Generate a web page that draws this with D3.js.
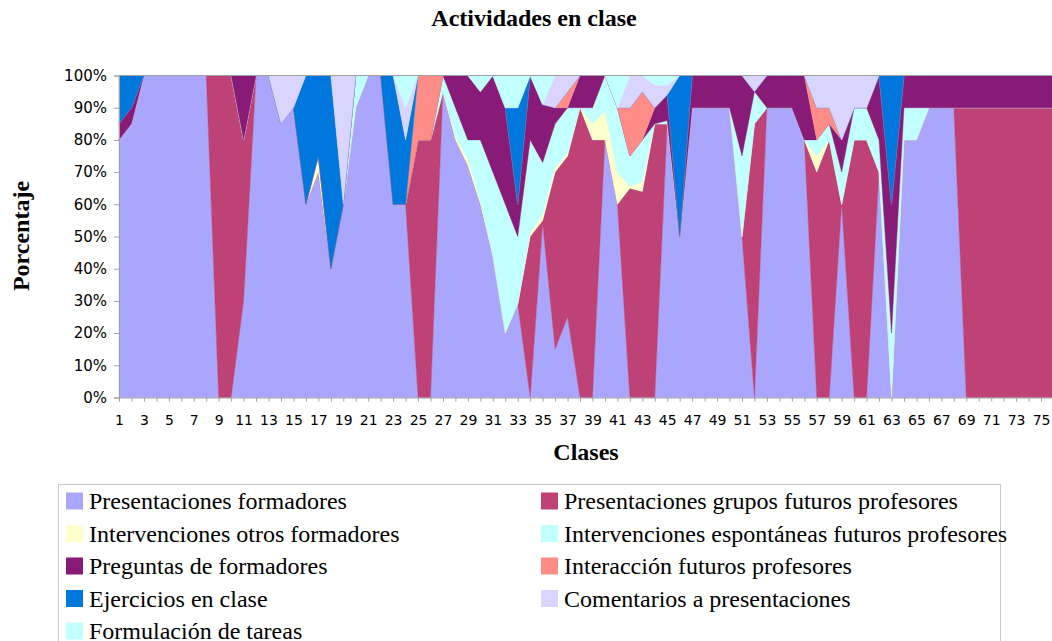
<!DOCTYPE html>
<html>
<head>
<meta charset="utf-8">
<script src="https://cdn.jsdelivr.net/npm/d3@7"></script>
<style>
  html, body { margin: 0; padding: 0; background: #fff; }
  svg { display: block; }
</style>
</head>
<body>
<svg id="chart" width="1052" height="641"></svg>
<script>
// Class numbers (1..76)
const clases = d3.range(1, 77);

// Percentage of each activity per class
const presentacionesFormadores = [
  80,85,100,100,100,100,100,100,0,0,
  30,100,100,85,90,60,70,40,60,90,
  100,100,60,60,0,0,95,80,72,60,
  44,20,29,0,54,15,25,0,0,80,
  60,0,0,0,85,50,90,90,90,90,
  50,0,90,90,90,80,0,0,60,0,
  0,70,0,80,80,90,90,90,0,0,
  0,0,0,0,0,0];
const presentacionesGrupos = [
  0,0,0,0,0,0,0,0,100,100,
  50,0,0,0,0,0,0,0,0,0,
  0,0,0,0,80,80,0,0,0,0,
  0,0,0,50,1,55,50,90,80,0,
  0,65,64,85,0,0,0,0,0,0,
  0,85,0,0,0,0,70,80,0,80,
  80,0,0,0,0,0,0,0,90,90,
  90,90,90,90,90,90];
const intervencionesOtros = [
  0,0,0,0,0,0,0,0,0,0,
  0,0,0,0,0,0,5,0,0,0,
  0,0,0,0,0,0,0,1,2,1,
  0,0,0,1,2,1.5,1,0,5,9,
  10,0.5,3,0,0,0,0,0,0,0,
  0,0,0,0,0,0,5,0,0,0,
  0,0,0,0,0,0,0,0,0,0,
  0,0,0,0,0,0];
const intervencionesEspontaneas = [
  0,0,0,0,0,0,0,0,0,0,
  0,0,0,0,0,0,0,0,0,10,
  0,0,0,0,0,0,5,9,6,19,
  26,40,21,29,16,13.5,14,0,5,11,
  20,9.5,13,0,1,0,0,0,0,0,
  25,10,0,0,0,0,5,5,10,10,
  10,10,20,10,10,0,0,0,0,0,
  0,0,0,0,0,0];
const preguntasFormadores = [
  5,5,0,0,0,0,0,0,0,0,
  20,0,0,0,0,0,0,0,0,0,
  0,0,0,0,0,0,0,10,20,15,
  30,30,10,20,18,5,0,10,10,0,
  0,0,0,5,8,0,10,10,10,10,
  25,0,10,10,10,20,0,0,10,0,
  0,20,40,10,10,10,10,10,10,10,
  10,10,10,10,10,10];
const interaccionFuturos = [
  0,0,0,0,0,0,0,0,0,0,
  0,0,0,0,0,0,0,0,0,0,
  0,0,0,0,20,20,0,0,0,0,
  0,0,0,0,0,0,5,0,0,0,
  0,15,15,0,0,0,0,0,0,0,
  0,0,0,0,0,0,10,5,0,0,
  0,0,0,0,0,0,0,0,0,0,
  0,0,0,0,0,0];
const ejerciciosClase = [
  15,10,0,0,0,0,0,0,0,0,
  0,0,0,0,0,40,25,60,0,0,
  0,0,40,20,0,0,0,0,0,0,
  0,0,30,0,0,0,0,0,0,0,
  0,0,0,0,0,50,0,0,0,0,
  0,0,0,0,0,0,0,0,0,0,
  0,0,40,0,0,0,0,0,0,0,
  0,0,0,0,0,0];
const comentariosPresentaciones = [
  0,0,0,0,0,0,0,0,0,0,
  0,0,0,15,10,0,0,0,40,0,
  0,0,0,10,0,0,0,0,0,0,
  0,0,0,0,0,10,5,0,0,0,
  0,10,5,7,3,0,0,0,0,0,
  0,5,0,0,0,0,10,10,20,10,
  10,0,0,0,0,0,0,0,0,0,
  0,0,0,0,0,0];
const formulacionTareas = [
  0,0,0,0,0,0,0,0,0,0,
  0,0,0,0,0,0,0,0,0,0,
  0,0,0,10,0,0,0,0,0,5,
  0,10,10,0,9,0,0,0,0,0,
  10,0,0,3,3,0,0,0,0,0,
  0,0,0,0,0,0,0,0,0,0,
  0,0,0,0,0,0,0,0,0,0,
  0,0,0,0,0,0];

// Series names in stacking order (bottom to top)
const seriesNames = [
  "Presentaciones formadores",
  "Presentaciones grupos futuros profesores",
  "Intervenciones otros formadores",
  "Intervenciones espontáneas futuros profesores",
  "Preguntas de formadores",
  "Interacción futuros profesores",
  "Ejercicios en clase",
  "Comentarios a presentaciones",
  "Formulación de tareas"
];
const seriesValues = [
  presentacionesFormadores, presentacionesGrupos, intervencionesOtros,
  intervencionesEspontaneas, preguntasFormadores, interaccionFuturos,
  ejerciciosClase, comentariosPresentaciones, formulacionTareas
];
const seriesColors = [
  "#aaa6fd", "#be4276", "#ffffcc", "#c2ffff", "#881a78",
  "#ff8c86", "#0077dd", "#d9d5fe", "#c2ffff"
];

// Y-axis tick values (fractions) and x-axis labelled classes
const yTicks = [0, 0.1, 0.2, 0.3, 0.4, 0.5, 0.6, 0.7, 0.8, 0.9, 1];
const xLabelled = clases.filter(c => c % 2 === 1);

// Legend layout order: two columns, row by row
const legendOrder = [0, 1, 2, 3, 4, 5, 6, 7, 8];

const rows = clases.map((c, i) => {
  const r = { clase: c };
  seriesNames.forEach((n, j) => { r[n] = seriesValues[j][i]; });
  return r;
});

const svg = d3.select("#chart");
const plot = { left: 119, right: 1053.5, top: 75.5, bottom: 397.5 };

const x = d3.scaleLinear().domain([1, 76]).range([plot.left, plot.right]);
const y = d3.scaleLinear().domain([0, 1]).range([plot.bottom, plot.top]);

const stack = d3.stack()
  .keys(seriesNames)
  .order(d3.stackOrderNone)
  .offset(d3.stackOffsetExpand);
const stacked = stack(rows);

const area = d3.area()
  .x(d => x(d.data.clase))
  .y0(d => y(d[0]))
  .y1(d => y(d[1]));

svg.append("g")
  .selectAll("path")
  .data(stacked)
  .join("path")
  .attr("d", area)
  .attr("fill", (d, i) => seriesColors[i])
  .attr("stroke", (d, i) => seriesColors[i])
  .attr("stroke-width", 0.4)
  .attr("stroke-linejoin", "round");

// Plot frame (top border)
svg.append("line")
  .attr("x1", plot.left).attr("x2", 1052)
  .attr("y1", plot.top).attr("y2", plot.top)
  .attr("stroke", "#a0a0a0").attr("stroke-width", 1);

// Y axis
const yAxis = d3.axisLeft(y)
  .tickValues(yTicks)
  .tickFormat(d3.format(".0%"))
  .tickSize(5)
  .tickPadding(7);
const gy = svg.append("g")
  .attr("transform", `translate(${plot.left},0)`)
  .call(yAxis);
gy.select(".domain").attr("stroke", "#a0a0a0");
gy.selectAll(".tick line").attr("stroke", "#a0a0a0");
gy.selectAll(".tick text")
  .attr("font-family", "'DejaVu Sans', Verdana, sans-serif")
  .attr("font-size", "15px")
  .attr("fill", "#000");

// X axis: a tick at every class, labels at odd classes
const xAxis = d3.axisBottom(x)
  .tickValues(clases)
  .tickFormat(d => (xLabelled.includes(d) ? String(d) : ""))
  .tickSize(4)
  .tickPadding(14);
const gx = svg.append("g")
  .attr("transform", `translate(0,${plot.bottom})`)
  .call(xAxis);
gx.select(".domain").attr("stroke", "#a0a0a0");
gx.selectAll(".tick line").attr("stroke", "#a0a0a0");
gx.selectAll(".tick text")
  .attr("font-family", "'DejaVu Sans', Verdana, sans-serif")
  .attr("font-size", "14px")
  .attr("fill", "#000");

// Titles
const serif = "'Liberation Serif', 'Times New Roman', serif";
svg.append("text")
  .attr("x", 534).attr("y", 26)
  .attr("text-anchor", "middle")
  .attr("font-family", serif).attr("font-weight", "bold").attr("font-size", "24px")
  .text("Actividades en clase");

svg.append("text")
  .attr("x", 586).attr("y", 460)
  .attr("text-anchor", "middle")
  .attr("font-family", serif).attr("font-weight", "bold").attr("font-size", "24px")
  .text("Clases");

svg.append("text")
  .attr("transform", "translate(29,236) rotate(-90)")
  .attr("text-anchor", "middle")
  .attr("font-family", serif).attr("font-weight", "bold").attr("font-size", "24px")
  .text("Porcentaje");

// Legend
const legend = svg.append("g");
legend.append("rect")
  .attr("x", 58.5).attr("y", 484.5)
  .attr("width", 942).attr("height", 200)
  .attr("fill", "#fff").attr("stroke", "#c8c8c8");

const colX = [66, 541];
const rowY0 = 501, rowStep = 32.5;
legendOrder.forEach((si, k) => {
  const col = k % 2, row = Math.floor(k / 2);
  const g = legend.append("g")
    .attr("transform", `translate(${colX[col]},${rowY0 + row * rowStep})`);
  g.append("rect")
    .attr("x", 0).attr("y", -8.5)
    .attr("width", 17).attr("height", 17)
    .attr("fill", seriesColors[si]);
  g.append("text")
    .attr("x", 23).attr("y", 0)
    .attr("dy", "0.35em")
    .attr("font-family", serif).attr("font-size", "24px")
    .attr("fill", "#000")
    .text(seriesNames[si]);
});
</script>
</body>
</html>
